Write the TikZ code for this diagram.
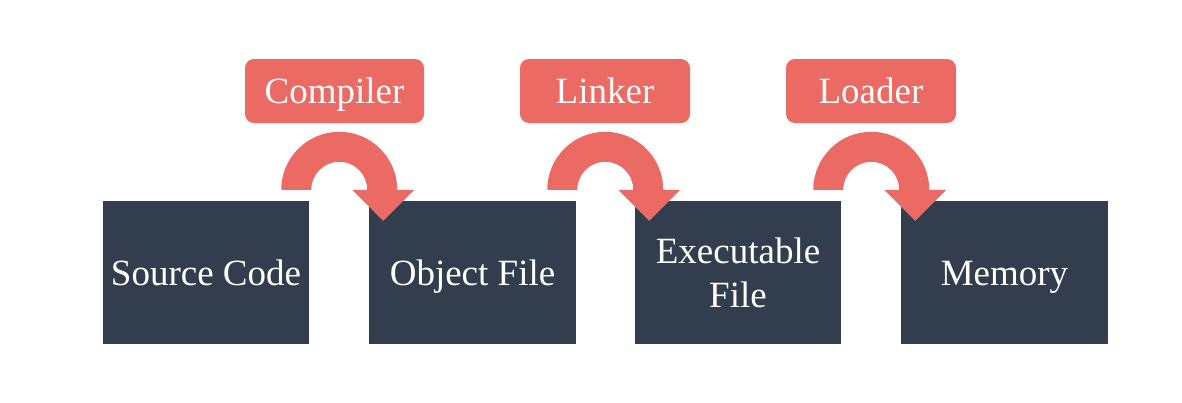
\documentclass[tikz,border=0pt]{standalone}
\usepackage{fontspec}
\setmainfont{Liberation Serif}
\usetikzlibrary{calc}
\definecolor{boxdark}{RGB}{50,62,77}
\definecolor{tagred}{RGB}{236,106,100}
\tikzset{
  stage/.style={fill=boxdark, draw=none, minimum width=206.5pt, minimum height=143pt,
    inner sep=0pt, text=white, align=center,
    font=\fontsize{37}{44}\selectfont},
  oneline/.style={text height=26pt, text depth=0pt},
  tag/.style={fill=tagred, draw=none, rounded corners=9pt, minimum height=64pt,
    minimum width=170pt, inner sep=0pt, text=white,
    text height=24.5pt, text depth=0pt,
    font=\fontsize{37}{44}\selectfont},
  fatarrow/.style={fill=tagred, draw=none}
}
\begin{document}
\begin{tikzpicture}[x=1pt,y=-1pt]
\useasboundingbox (0,0) rectangle (1182,402);
\node[stage, oneline] (src) at (206,272.5) {Source Code};
\node[stage, oneline] (obj) at (472.5,272.5) {Object File};
\node[stage] (exe) at (738,272.5) {Executable\\File};
\node[stage, oneline] (mem) at (1004.5,272.5) {Memory};
\node[tag, minimum width=179pt] (comp) at (334.5,91) {Compiler};
\node[tag] (link) at (605,91) {Linker};
\node[tag] (load) at (871,91) {Loader};
\foreach \a/\b in {src/obj,obj/exe,exe/mem}{
  \coordinate (c\a) at ($(\a.north east)!0.5!(\b.north west)+(0,-11)$);
  \fill[fatarrow] ([xshift=-58pt]c\a) arc[start angle=180,end angle=360,radius=58]
     -- ++(17,0) -- ++(-31,31) -- ++(-31,-31) -- ++(15,0)
     arc[start angle=0,end angle=-180,radius=28] -- cycle;
}
\end{tikzpicture}
\end{document}
